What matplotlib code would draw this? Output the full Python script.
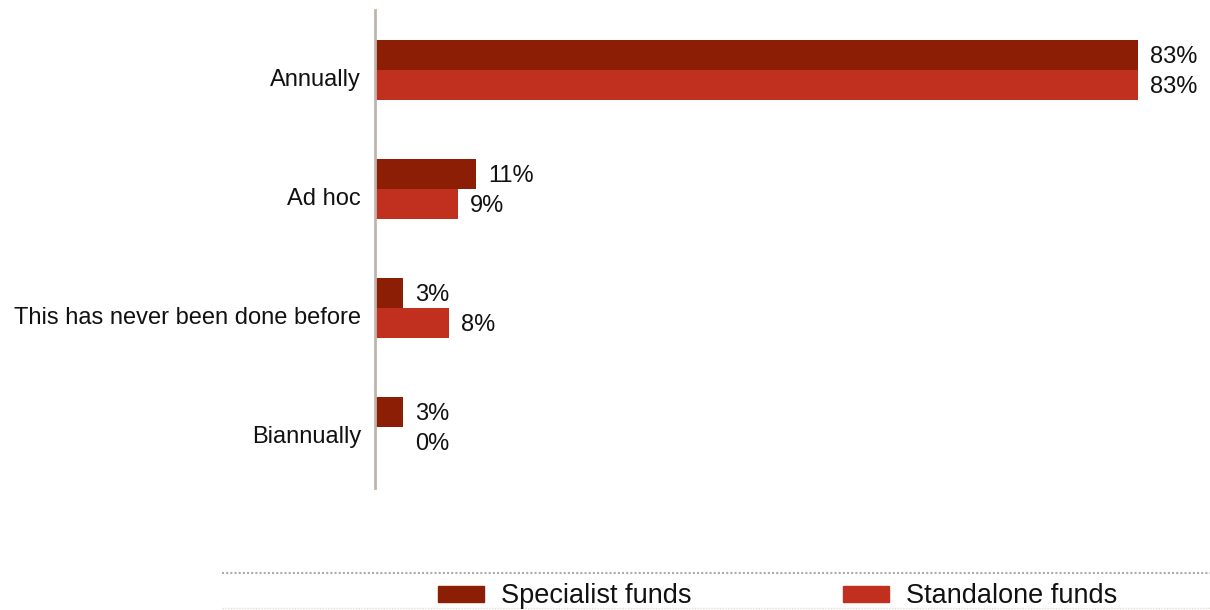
import matplotlib
matplotlib.use("Agg")
import matplotlib.pyplot as plt
import matplotlib.patches as mpatches
from matplotlib.lines import Line2D
from matplotlib.transforms import ScaledTranslation
import numpy as np

plt.rcParams["font.family"] = ["Liberation Sans", "DejaVu Sans"]

# Frequency responses, share of respondents (%)
categories = ["Annually", "Ad hoc", "This has never been done before", "Biannually"]
specialist = [83, 11, 3, 3]
standalone = [83, 9, 8, 0]
series_names = ["Specialist funds", "Standalone funds"]

DARK = "#8c1e05"
LIGHT = "#c1301f"
TXT = "#111111"
FS = 17
FS_LEG = 19.5

W, H = 1210, 610
fig = plt.figure(figsize=(W / 100, H / 100), dpi=100)
ax = fig.add_axes([375 / W, 1 - 488 / H, 835 / W, 478 / H])

y = np.arange(len(categories))
h = 0.252
b1 = ax.barh(y - h / 2, specialist, height=h, color=DARK)
b2 = ax.barh(y + h / 2, standalone, height=h, color=LIGHT)

# value labels; an empty bar borrows the position of its partner bar
for bars, vals, other in ((b1, specialist, standalone), (b2, standalone, specialist)):
    for bar, v, o in zip(bars, vals, other):
        x = v if v > 0 else o
        ax.annotate(f"{v}%", xy=(x, bar.get_y() + bar.get_height() / 2),
                    xytext=(9, -1.2), textcoords="offset points",
                    va="center", ha="left", fontsize=FS, color=TXT)

ax.set_xlim(0, 835 / 9.19)
ax.set_ylim(len(categories) - 1 + 0.513, -0.504)
ax.set_yticks(y)
ax.set_yticklabels(categories, fontsize=FS, color=TXT)
ax.tick_params(axis="y", length=0, pad=10)
ax.set_xticks([])
for lbl in ax.get_yticklabels():
    lbl.set_transform(lbl.get_transform() + ScaledTranslation(0, -0.08, fig.dpi_scale_trans))

for side in ("top", "right", "bottom"):
    ax.spines[side].set_visible(False)
ax.spines["left"].set_color("#bfb6ad")
ax.spines["left"].set_linewidth(2)

# separator lines around the legend
fig.add_artist(Line2D([222 / W, 1.0], [1 - 573 / H] * 2, transform=fig.transFigure,
                      color="#b3aba3", lw=1.5, linestyle=(0, (1, 1))))
fig.add_artist(Line2D([222 / W, 1.0], [1 - 608 / H] * 2, transform=fig.transFigure,
                      color="#e0dcd8", lw=1.0, linestyle=(0, (1, 1))))

# legend entries
leg_y = 1 - 596 / H
for name, color, px in zip(series_names, (DARK, LIGHT), (438, 843)):
    fig.add_artist(mpatches.Rectangle((px / W, 1 - 602 / H), 46 / W, 16 / H,
                                      transform=fig.transFigure, color=color))
    fig.text((px + 63) / W, leg_y, name, fontsize=FS_LEG, color=TXT,
             ha="left", va="center")

fig.savefig("out.png", dpi=100)
